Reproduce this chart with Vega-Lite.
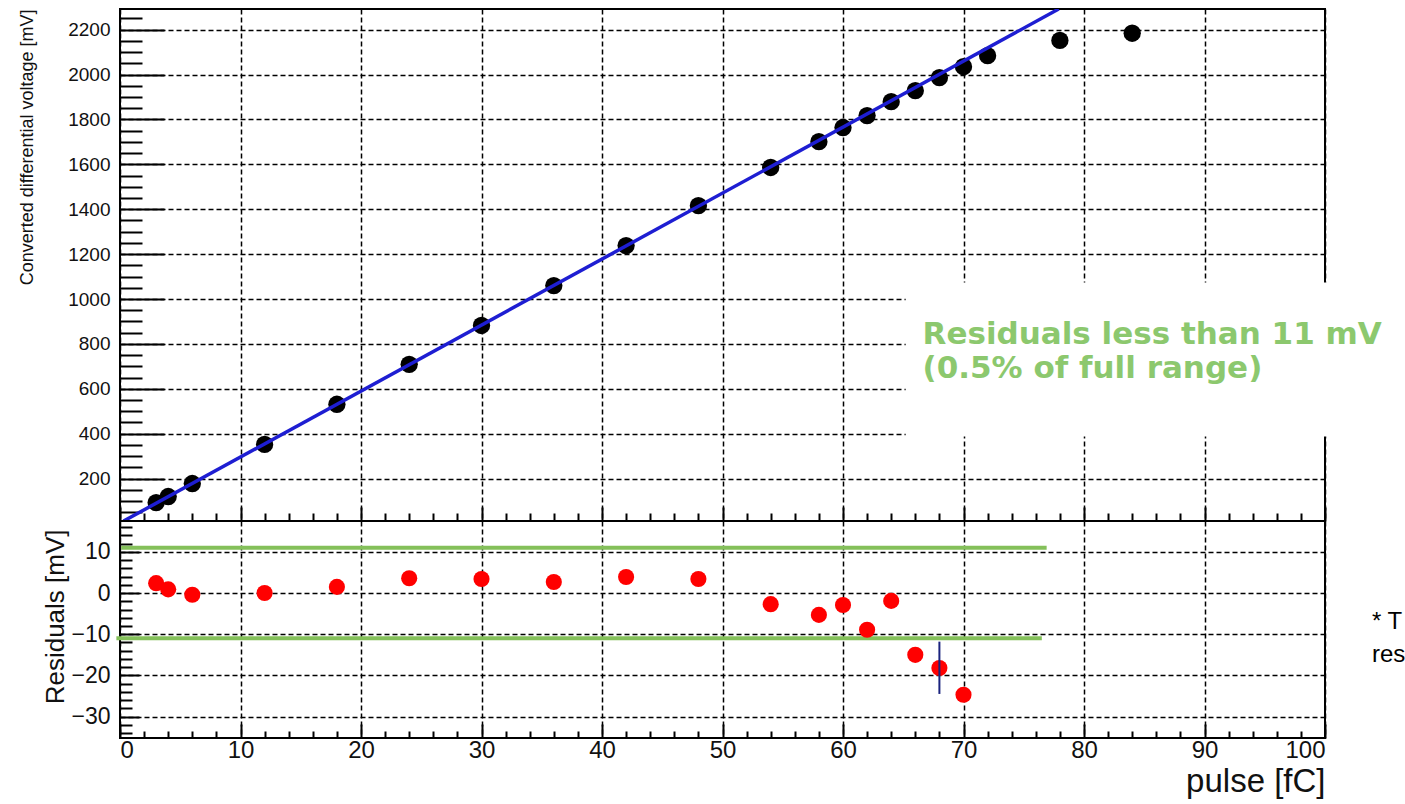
{
  "$schema": "https://vega.github.io/schema/vega-lite/v6.json",
  "background": "white",
  "padding": {"left": 16, "top": 8, "right": 0, "bottom": 0},
  "spacing": 0,
  "bounds": "flush",
  "config": {
    "view": {"stroke": "black", "strokeWidth": 2},
    "axis": {
      "labelFont": "Liberation Sans",
      "titleFont": "Liberation Sans",
      "labelColor": "#111",
      "titleColor": "#111",
      "titleFontWeight": "normal",
      "domain": false,
      "tickColor": "black",
      "tickWidth": 2,
      "tickCount": 500,
      "labelOverlap": false,
      "format": "d",
      "gridColor": "black",
      "gridDash": [5, 3],
      "gridWidth": 1.5
    }
  },
  "datasets": {
    "meas": [
      {"pulse": 3, "voltage": 93}, {"pulse": 4, "voltage": 120}, {"pulse": 6, "voltage": 178},
      {"pulse": 12, "voltage": 352}, {"pulse": 18, "voltage": 531}, {"pulse": 24, "voltage": 709},
      {"pulse": 30, "voltage": 882}, {"pulse": 36, "voltage": 1060}, {"pulse": 42, "voltage": 1238},
      {"pulse": 48, "voltage": 1416}, {"pulse": 54, "voltage": 1586}, {"pulse": 58, "voltage": 1701},
      {"pulse": 60, "voltage": 1764}, {"pulse": 62, "voltage": 1817}, {"pulse": 64, "voltage": 1879},
      {"pulse": 66, "voltage": 1928}, {"pulse": 68, "voltage": 1986}, {"pulse": 70, "voltage": 2035},
      {"pulse": 72, "voltage": 2084}, {"pulse": 78, "voltage": 2152}, {"pulse": 84, "voltage": 2184}
    ],
    "fit": [
      {"pulse": 0.3, "voltage": 10.8}, {"pulse": 77.9, "voltage": 2292}
    ],
    "box": [
      {"pulse": 65.2, "pulse2": 110, "voltage": 388, "voltage2": 1073}
    ],
    "note": [
      {"pulse": 66.6, "voltage": 798, "text": "Residuals less than 11 mV"},
      {"pulse": 66.6, "voltage": 650, "text": "(0.5% of full range)"}
    ],
    "resid": [
      {"pulse": 3, "resid": 2.4}, {"pulse": 4, "resid": 0.9}, {"pulse": 6, "resid": -0.4},
      {"pulse": 12, "resid": 0}, {"pulse": 18, "resid": 1.5}, {"pulse": 24, "resid": 3.6},
      {"pulse": 30, "resid": 3.4}, {"pulse": 36, "resid": 2.7}, {"pulse": 42, "resid": 3.9},
      {"pulse": 48, "resid": 3.4}, {"pulse": 54, "resid": -2.7}, {"pulse": 58, "resid": -5.3},
      {"pulse": 60, "resid": -2.9}, {"pulse": 62, "resid": -8.9}, {"pulse": 64, "resid": -1.9},
      {"pulse": 66, "resid": -15}, {"pulse": 68, "resid": -18.2}, {"pulse": 70, "resid": -24.7}
    ],
    "errbar": [
      {"pulse": 68, "resid": -24.5, "resid2": -11.8}
    ],
    "limits": [
      {"pulse": 0.1, "pulse2": 76.9, "resid": 11},
      {"pulse": -0.3, "pulse2": 76.5, "resid": -11}
    ],
    "side": [
      {"pulse": 103.9, "resid": -8.7, "text": "* T"},
      {"pulse": 103.9, "resid": -16.8, "text": "res"}
    ]
  },
  "vconcat": [
    {
      "width": 1205,
      "height": 512,
      "layer": [
        {
          "data": {"name": "meas"},
          "mark": {"type": "circle", "color": "black", "size": 300, "opacity": 1},
          "encoding": {
            "x": {
              "field": "pulse", "type": "quantitative",
              "scale": {"domain": [0, 100], "nice": false, "zero": false},
              "axis": {
                "title": null,
                "labels": false,
                "values": [0,2,4,6,8,10,12,14,16,18,20,22,24,26,28,30,32,34,36,38,40,42,44,46,48,50,52,54,56,58,60,62,64,66,68,70,72,74,76,78,80,82,84,86,88,90,92,94,96,98,100],
                "tickSize": {"condition": {"test": "datum.value % 10 === 0", "value": -14}, "value": -8},
                "grid": true,
                "gridOpacity": {"condition": {"test": "datum.value % 10 === 0", "value": 1}, "value": 0}
              }
            },
            "y": {
              "field": "voltage", "type": "quantitative",
              "scale": {"domain": [11, 2292], "nice": false, "zero": false},
              "axis": {
                "title": "Converted differential voltage [mV]",
                "titleFontSize": 18,
                "titleAnchor": "end",
                "titleX": -84,
                "titleBaseline": "bottom",
                "values": [50,100,150,200,250,300,350,400,450,500,550,600,650,700,750,800,850,900,950,1000,1050,1100,1150,1200,1250,1300,1350,1400,1450,1500,1550,1600,1650,1700,1750,1800,1850,1900,1950,2000,2050,2100,2150,2200,2250],
                "labelExpr": "datum.value % 200 === 0 ? datum.label : ''",
                "labelFontSize": 19,
                "labelPadding": 54,
                "tickSize": {"condition": {"test": "datum.value % 200 === 0", "value": -44}, "value": -22},
                "grid": true,
                "gridOpacity": {"condition": {"test": "datum.value % 200 === 0", "value": 1}, "value": 0}
              }
            }
          }
        },
        {
          "data": {"name": "fit"},
          "mark": {"type": "line", "color": "#1e1ed2", "strokeWidth": 3.5, "clip": true},
          "encoding": {
            "x": {"field": "pulse", "type": "quantitative"},
            "y": {"field": "voltage", "type": "quantitative"}
          }
        },
        {
          "data": {"name": "box"},
          "mark": {"type": "rect", "fill": "white", "stroke": null},
          "encoding": {
            "x": {"field": "pulse", "type": "quantitative"},
            "x2": {"field": "pulse2"},
            "y": {"field": "voltage", "type": "quantitative"},
            "y2": {"field": "voltage2"}
          }
        },
        {
          "data": {"name": "note"},
          "mark": {"type": "text", "align": "left", "baseline": "alphabetic", "font": "DejaVu Sans", "fontWeight": "bold", "fontSize": 31, "color": "#8cc86e"},
          "encoding": {
            "x": {"field": "pulse", "type": "quantitative"},
            "y": {"field": "voltage", "type": "quantitative"},
            "text": {"field": "text"}
          }
        }
      ]
    },
    {
      "width": 1205,
      "height": 217,
      "layer": [
        {
          "data": {"name": "limits"},
          "mark": {"type": "rule", "color": "#84c05a", "strokeWidth": 4},
          "encoding": {
            "x": {
              "field": "pulse", "type": "quantitative",
              "scale": {"domain": [0, 100], "nice": false, "zero": false},
              "axis": {
                "title": "pulse [fC]",
                "titleFontSize": 33,
                "titleAnchor": "end",
                "titleBaseline": "alphabetic",
                "titleY": 53,
                "values": [0,2,4,6,8,10,12,14,16,18,20,22,24,26,28,30,32,34,36,38,40,42,44,46,48,50,52,54,56,58,60,62,64,66,68,70,72,74,76,78,80,82,84,86,88,90,92,94,96,98,100],
                "labelExpr": "datum.value % 10 === 0 ? datum.label : ''",
                "labelFontSize": 24,
                "labelPadding": 14,
                "tickSize": {"condition": {"test": "datum.value % 10 === 0", "value": -14}, "value": -7},
                "grid": true,
                "gridOpacity": {"condition": {"test": "datum.value % 10 === 0", "value": 1}, "value": 0}
              }
            },
            "x2": {"field": "pulse2"},
            "y": {
              "field": "resid", "type": "quantitative",
              "scale": {"domain": [-35.2, 17.5], "nice": false, "zero": false},
              "axis": {
                "title": "Residuals [mV]",
                "titleFontSize": 26,
                "titleAnchor": "end",
                "titleX": -52,
                "titleY": 8,
                "titleBaseline": "bottom",
                "values": [-34,-32,-30,-28,-26,-24,-22,-20,-18,-16,-14,-12,-10,-8,-6,-4,-2,0,2,4,6,8,10,12,14,16],
                "labelExpr": "datum.value % 10 === 0 ? datum.label : ''",
                "labelFontSize": 23,
                "labelPadding": 29,
                "tickSize": {"condition": {"test": "datum.value % 10 === 0", "value": -19}, "value": -12},
                "grid": true,
                "gridOpacity": {"condition": {"test": "datum.value % 10 === 0", "value": 1}, "value": 0}
              }
            }
          }
        },
        {
          "data": {"name": "resid"},
          "mark": {"type": "circle", "color": "#ff0000", "size": 260, "opacity": 1},
          "encoding": {
            "x": {"field": "pulse", "type": "quantitative"},
            "y": {"field": "resid", "type": "quantitative"}
          }
        },
        {
          "data": {"name": "errbar"},
          "mark": {"type": "rule", "color": "#1a237e", "strokeWidth": 2},
          "encoding": {
            "x": {"field": "pulse", "type": "quantitative"},
            "y": {"field": "resid", "type": "quantitative"},
            "y2": {"field": "resid2"}
          }
        },
        {
          "data": {"name": "side"},
          "mark": {"type": "text", "align": "left", "baseline": "alphabetic", "font": "Liberation Sans", "fontSize": 24, "color": "black"},
          "encoding": {
            "x": {"field": "pulse", "type": "quantitative"},
            "y": {"field": "resid", "type": "quantitative"},
            "text": {"field": "text"}
          }
        }
      ]
    }
  ]
}
